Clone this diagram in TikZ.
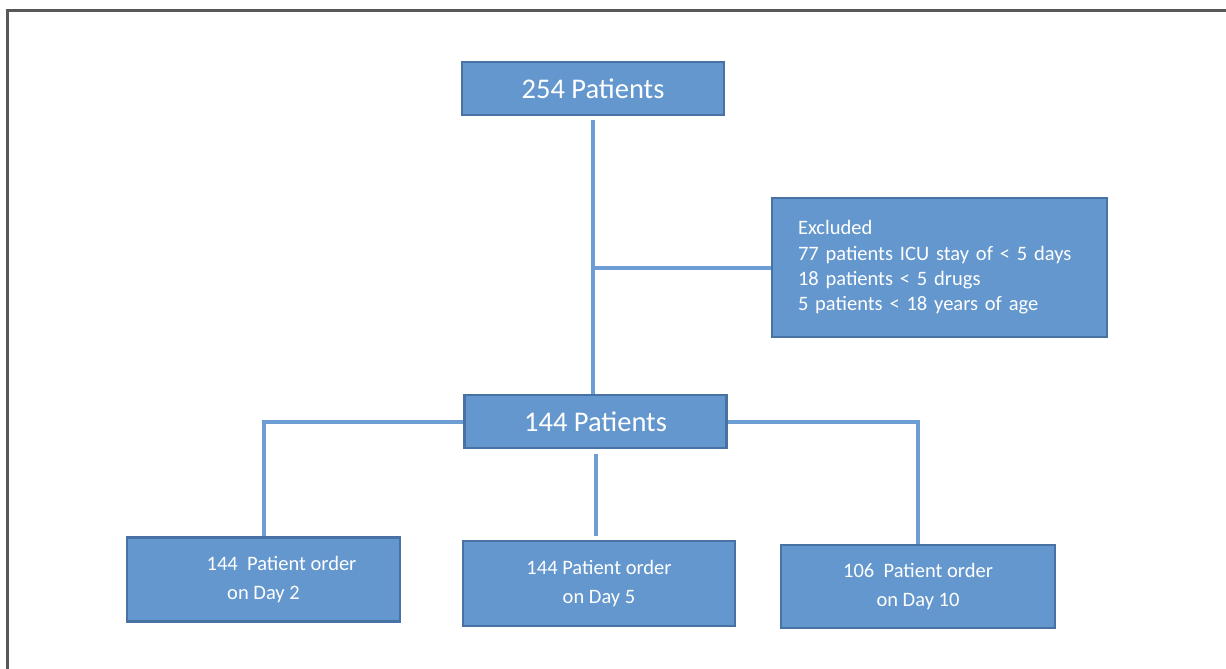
\documentclass[tikz,border=0pt]{standalone}
\usepackage{fontspec}
\setmainfont{Carlito}
\usetikzlibrary{positioning}
\definecolor{boxblue}{RGB}{99,151,205}
\definecolor{boxedge}{RGB}{72,114,163}
\definecolor{linkblue}{RGB}{108,157,211}
\definecolor{framegray}{RGB}{88,88,88}

\begin{document}
\begin{tikzpicture}[x=1pt, y=-1pt,
  box/.style={rectangle, draw=boxedge, fill=boxblue, line width=2.5pt, text=white,
              align=center, inner sep=0pt},
  big/.style={box, minimum width=262pt, minimum height=53pt,
              font=\fontsize{28.5}{32}\selectfont},
  order/.style={box, minimum width=273pt, minimum height=84pt,
                font=\fontsize{20.5}{29}\selectfont},
  link/.style={draw=linkblue, line width=4pt}
]
\useasboundingbox (0,0) rectangle (1226,669);
\draw[framegray, line width=3pt] (1226,11) -- (7,11) -- (7,669);

\node[big] (all) at (593,88.5) {254 Patients};
\node[box, minimum width=335pt, minimum height=139pt, text width=283pt, align=left,
      font=\fontsize{20.5}{25.3}\selectfont] (excl) at (939.5,267.5)
  {Excluded\\77 patients ICU stay of < 5 days\\18 patients < 5 drugs\\5 patients < 18 years of age};
\node[big] (kept) at (595.5,421.5) {144 Patients};
\node[order] (day2) at (263.5,579.5) {\hspace*{36pt}144\ \ Patient order\\on Day 2};
\node[order, minimum width=272pt, minimum height=85pt] (day5) at (599,583.5) {144 Patient order\\on Day 5};
\node[order, minimum width=274pt, minimum height=83pt] (day10) at (918,586.5) {106\ \ Patient order\\on Day 10};

\draw[link, shorten <=4pt] (all.south) -- (all.south |- kept.north);
\draw[link] (all.south |- excl.west) -- (excl.west);
\draw[link] (kept.west) -| (day2.north);
\draw[link, shorten <=5pt, shorten >=4pt] (kept.south) -- (kept.south |- day5.north);
\draw[link] (kept.east) -| (day10.north);
\end{tikzpicture}
\end{document}
